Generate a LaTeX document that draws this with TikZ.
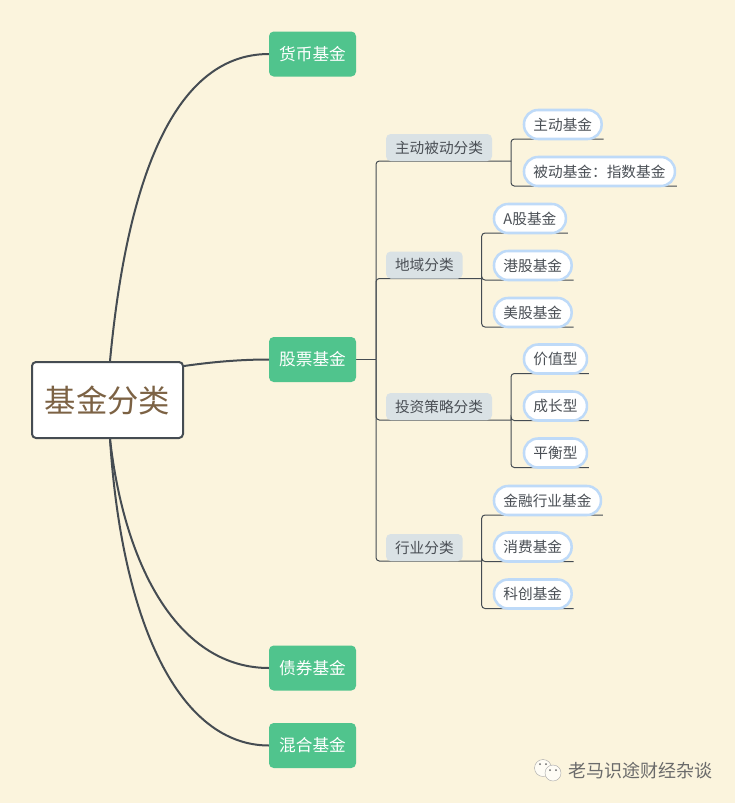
\documentclass[tikz,border=0pt]{standalone}
\usepackage{fontspec}
\setmainfont{Noto Sans CJK SC}
\usetikzlibrary{backgrounds,calc}
\definecolor{paper}{HTML}{FBF4DD}
\definecolor{fund}{HTML}{50C48D}
\definecolor{tag}{HTML}{DAE2E5}
\definecolor{pill}{HTML}{BEDAF8}
\definecolor{wire}{HTML}{454C52}
\definecolor{ink}{HTML}{4A4F55}
\definecolor{rootink}{HTML}{7C6244}
\tikzset{
  root/.style={
      draw=wire,
      fill=white,
      line width=1.5pt,
      rounded corners=3pt,
      minimum width=113.25pt,
      minimum height=57pt,
      outer sep=0pt,
      text=rootink,
      font=\fontsize{23.5}{26}\selectfont,
  },
  fund/.style={
      fill=fund,
      rounded corners=3.5pt,
      minimum width=65.25pt,
      minimum height=33.75pt,
      outer sep=0pt,
      text=white,
      font=\fontsize{12.5}{15}\selectfont,
  },
  group/.style={
      fill=tag,
      anchor=west,
      rounded corners=3.5pt,
      inner xsep=6.75pt,
      inner ysep=0pt,
      minimum height=20.25pt,
      outer sep=0pt,
      text=ink,
      font=\fontsize{11}{13}\selectfont,
  },
  leaf/.style={
      draw=pill,
      fill=white,
      anchor=west,
      line width=1.9pt,
      rounded corners=10.5pt,
      inner xsep=7.1pt,
      inner ysep=0pt,
      minimum height=21.75pt,
      outer sep=0pt,
      text=ink,
      font=\fontsize{11}{13}\selectfont,
  },
  curve/.style={draw=wire,line width=1.5pt},
  branch/.style={draw=wire,line width=.75pt,rounded corners=2.5pt}
}

\begin{document}
\begin{tikzpicture}[x=.75pt,y=-.75pt]
    \useasboundingbox (0,0) rectangle (735,803);
    \node[root] (base) at (107.5,400) {基金分类};

    \node[fund] (money) at (312.5,54) {货币基金};
    \node[fund] (stock) at (312.5,359.5) {股票基金};
    \node[fund] (bond) at (312.5,668) {债券基金};
    \node[fund] (mixed) at (312.5,745.5) {混合基金};

    \node[group] (style) at (386,147.5) {主动被动分类};
    \node[group] (area) at (386,265) {地域分类};
    \node[group] (plan) at (386,406.5) {投资策略分类};
    \node[group] (trade) at (386,547.5) {行业分类};

    \node[leaf] (active) at (524,124.5) {主动基金};
    \node[leaf] (passive) at (524,171.5) {被动基金：指数基金};
    \node[leaf] (ashare) at (494,218.5) {A股基金};
    \node[leaf] (hkshare) at (494,265.5) {港股基金};
    \node[leaf] (usshare) at (494,312.5) {美股基金};
    \node[leaf] (value) at (524,359) {价值型};
    \node[leaf] (growth) at (524,406) {成长型};
    \node[leaf] (blend) at (524,453) {平衡型};
    \node[leaf] (bank) at (494,500.5) {金融行业基金};
    \node[leaf] (retail) at (494,547) {消费基金};
    \node[leaf] (tech) at (494,594) {科创基金};

    \coordinate (baseup) at (110,361);
    \coordinate (baseside) at (184,366);
    \coordinate (basedown) at (110,439);
    \coordinate (trunk) at (376,359.5);

    \begin{scope}[on background layer]
        \fill[paper] (0,0) rectangle (735,803);
        \draw[curve] (baseup) .. controls (126,190) and (170,54) .. (money.west);
        \draw[curve] (baseside) .. controls (212,362) and (240,359.5) .. (stock.west);
        \draw[curve] (basedown) .. controls (125,570) and (180,668) .. (bond.west);
        \draw[curve] (basedown) .. controls (122,625) and (180,745.5) .. (mixed.west);

        \draw[branch] (stock.east) -- (trunk);
        \foreach \g in {style,area,plan,trade}{
            \draw[branch] (trunk) |- (\g.south west) -- (\g.south east) -- ++(19,0) coordinate (\g-fork);
        }

        \foreach \g/\l in {style/active,style/passive,area/ashare,area/hkshare,area/usshare,
                           plan/value,plan/growth,plan/blend,trade/bank,trade/retail,trade/tech}
            \draw[branch] (\g-fork) |- (\l.south west) -- ($(\l.south east)+(2,0)$);
    \end{scope}

    % mark beside the name
    \draw[gray!70,line width=.3pt,fill=paper!30!white] (543,768) circle (8.5);
    \draw[gray!70,line width=.3pt,fill=paper!30!white] (553,773) circle (8);
    \foreach \p in {(540,764),(546,764),(550,770),(556,770)}
        \fill[gray!80!black] \p circle (1);
    \node[anchor=west,inner sep=0pt,text=black!58,font=\fontsize{13.5}{16}\selectfont] (sign) at (568,771) {老马识途财经杂谈};
\end{tikzpicture}
\end{document}
